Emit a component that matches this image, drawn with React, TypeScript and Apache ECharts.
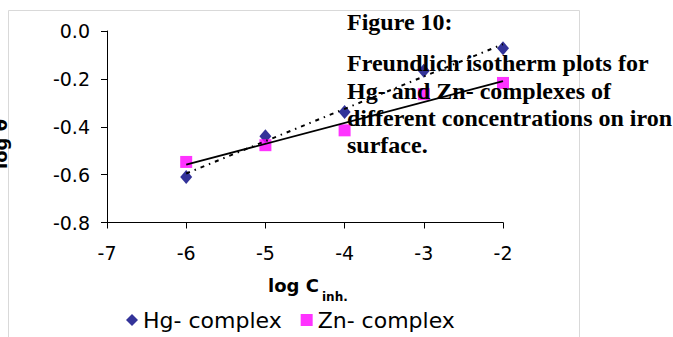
import React, { useEffect, useRef } from "react";
import * as echarts from "echarts";

// ---- data ----
const logC = [-6, -5, -4, -3, -2];
const hgValues = [-0.61, -0.44, -0.338, -0.166, -0.072];
const znValues = [-0.547, -0.477, -0.415, -0.264, -0.217];
const seriesNames = ["Hg- complex", "Zn- complex"];
const xRange = [-7, -2];
const yRange = [-0.8, 0];
const captionTitle = "Figure 10:";
const captionLines = [
  "Freundlich isotherm plots for",
  "Hg- and Zn- complexes of",
  "different concentrations on iron",
  "surface.",
];
const xAxisTitle = "log C";
const xAxisSub = "inh.";
const yAxisTitle = "log θ";

function linearFit(xs: number[], ys: number[]): number[][] {
  const n = xs.length;
  const mx = xs.reduce((a, b) => a + b, 0) / n;
  const my = ys.reduce((a, b) => a + b, 0) / n;
  let sxy = 0;
  let sxx = 0;
  for (let i = 0; i < n; i++) {
    sxy += (xs[i] - mx) * (ys[i] - my);
    sxx += (xs[i] - mx) * (xs[i] - mx);
  }
  const k = sxy / sxx;
  const b = my - k * mx;
  const x0 = Math.min(...xs);
  const x1 = Math.max(...xs);
  return [
    [x0, k * x0 + b],
    [x1, k * x1 + b],
  ];
}

const SANS = "DejaVu Sans";
const SERIF = "Liberation Serif";

export default function App() {
  const ref = useRef<HTMLDivElement>(null);

  useEffect(() => {
    if (!ref.current) return;
    const chart = echarts.init(ref.current, undefined, { renderer: "svg" });

    const hgData = logC.map((x, i) => [x, hgValues[i]]);
    const znData = logC.map((x, i) => [x, znValues[i]]);

    const captionFontSize = 24;
    const central = 0.3375 * captionFontSize;
    const captionBaselines = [71, 99, 126.5, 153.5];

    const graphic: any[] = [
      {
        type: "rect",
        z: 0,
        silent: true,
        shape: { x: 8.5, y: 10.5, width: 571, height: 340 },
        style: { fill: "none", stroke: "#d9d9d9", lineWidth: 1 },
      },
      {
        type: "text",
        z: 100,
        x: 347,
        y: 30 - central,
        style: {
          text: captionTitle,
          fontFamily: SERIF,
          fontWeight: "bold",
          fontSize: captionFontSize,
          fill: "#000",
          align: "left",
          verticalAlign: "middle",
        },
      },
      ...captionLines.map((t, i) => ({
        type: "text",
        z: 100,
        x: 347,
        y: captionBaselines[i] - central,
        style: {
          text: t,
          fontFamily: SERIF,
          fontWeight: "bold",
          fontSize: captionFontSize,
          fill: "#000",
          align: "left",
          verticalAlign: "middle",
        },
      })),
      {
        type: "text",
        z: 100,
        x: 268,
        y: 292 - 0.346 * 18,
        style: {
          text: xAxisTitle,
          fontFamily: SANS,
          fontWeight: "bold",
          fontSize: 18,
          fill: "#000",
          align: "left",
          verticalAlign: "middle",
        },
      },
      {
        type: "text",
        z: 100,
        x: 322,
        y: 301 - 0.346 * 12,
        style: {
          text: xAxisSub,
          fontFamily: SANS,
          fontWeight: "bold",
          fontSize: 12,
          fill: "#000",
          align: "left",
          verticalAlign: "middle",
        },
      },
      {
        type: "text",
        z: 100,
        x: 0,
        y: 144,
        rotation: Math.PI / 2,
        style: {
          text: yAxisTitle,
          fontFamily: SANS,
          fontWeight: "bold",
          fontSize: 18,
          fill: "#000",
          align: "center",
          verticalAlign: "middle",
        },
      },
    ];

    chart.setOption({
      animation: false,
      backgroundColor: "#fff",
      grid: { left: 107, right: 170, top: 31, bottom: 114.5, containLabel: false },
      xAxis: {
        type: "value",
        min: xRange[0],
        max: xRange[1],
        interval: 1,
        splitLine: { show: false },
        axisLine: { show: true, onZero: false, lineStyle: { color: "#000", width: 1 } },
        axisTick: { show: true, inside: false, length: 6, lineStyle: { color: "#000" } },
        axisLabel: {
          color: "#000",
          fontFamily: SANS,
          fontSize: 19,
          margin: 21,
        },
      },
      yAxis: {
        type: "value",
        min: yRange[0],
        max: yRange[1],
        interval: 0.2,
        splitLine: { show: false },
        axisLine: { show: true, onZero: false, lineStyle: { color: "#000", width: 1 } },
        axisTick: { show: true, inside: false, length: 6, lineStyle: { color: "#000" } },
        axisLabel: {
          color: "#000",
          fontFamily: SANS,
          fontSize: 19,
          margin: 17,
          formatter: (v: number) => v.toFixed(1),
        },
      },
      legend: {
        left: 121,
        top: 304,
        itemWidth: 12,
        itemHeight: 12,
        itemGap: 19,
        textStyle: { color: "#000", fontFamily: SANS, fontSize: 22 },
        data: [
          { name: seriesNames[0], icon: "diamond" },
          { name: seriesNames[1], icon: "rect" },
        ],
      },
      graphic,
      series: [
        {
          name: "Hg trend",
          type: "line",
          data: linearFit(logC, hgValues),
          symbol: "none",
          lineStyle: { color: "#000", width: 2, type: [4, 5, 1.5, 5] },
          z: 3,
        },
        {
          name: "Zn trend",
          type: "line",
          data: linearFit(logC, znValues),
          symbol: "none",
          lineStyle: { color: "#000", width: 1.8, type: "solid" },
          z: 3,
        },
        {
          name: seriesNames[0],
          type: "scatter",
          data: hgData,
          symbol: "diamond",
          symbolSize: [12, 14],
          itemStyle: { color: "#000080" },
          z: 2,
        },
        {
          name: seriesNames[1],
          type: "scatter",
          data: znData,
          symbol: "rect",
          symbolSize: 12,
          itemStyle: { color: "#ff00ff" },
          z: 2,
        },
      ],
    });

    return () => {
      chart.dispose();
    };
  }, []);

  return (
    <div
      ref={ref}
      style={{ position: "absolute", left: 0, top: 0, width: 673, height: 337 }}
    />
  );
}
